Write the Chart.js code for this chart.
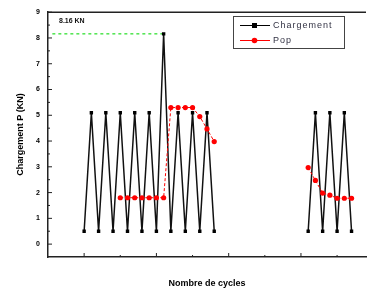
<!DOCTYPE html>
<html>
<head>
<meta charset="utf-8">
<script src="https://cdn.jsdelivr.net/npm/chart.js@4"></script>
<style>html,body{margin:0;padding:0;background:#fff}</style>
</head>
<body>
<canvas id="c" width="370" height="293"></canvas>
<script>
// Chargement (black squares) - two groups of cycles, gap between them
const cycles = [0, 0.5, 1, 1.5, 2, 2.5, 3, 3.5, 4, 4.5, 5, 5.5, 6, 6.5, 7, 7.5, 8, 8.5, 9, null,
  15.5, 16, 16.5, 17, 17.5, 18, 18.5];
const chargement = [0.5, 5.1, 0.5, 5.1, 0.5, 5.1, 0.5, 5.1, 0.5, 5.1, 0.5, 8.16, 0.5, 5.1, 0.5, 5.1, 0.5, 5.1, 0.5, null,
  0.5, 5.1, 0.5, 5.1, 0.5, 5.1, 0.5];

// Pop (red dots)
const popCycles = [2.5, 3, 3.5, 4, 4.5, 5, 5.5, 6, 6.5, 7, 7.5, 8, 8.5, 9, null,
  15.5, 16, 16.5, 17, 17.5, 18, 18.5];
const pop = [1.8, 1.8, 1.8, 1.8, 1.8, 1.8, 1.8, 5.3, 5.3, 5.3, 5.3, 4.95, 4.47, 3.98, null,
  2.97, 2.47, 1.98, 1.9, 1.78, 1.78, 1.78];

// peak marker line
const peakValue = 8.16;
const peakLineX = [-2.2, 5.5];

const yTicks = [0, 1, 2, 3, 4, 5, 6, 7, 8, 9];
const yMinor = [0.5, 1.5, 2.5, 3.5, 4.5, 5.5, 6.5, 7.5, 8.5];
const xMajor = [0, 5, 10, 15];
const xMinor = [2.5, 7.5, 12.5, 17.5];

const toPoints = (xs, ys) => xs.map((x, i) => ({ x: x, y: ys[i] }));

const frame = {
  id: "frame",
  afterDraw(chart) {
    const { ctx, chartArea: a, scales: { x, y } } = chart;
    ctx.save();
    ctx.strokeStyle = "#222";
    ctx.lineWidth = 1.5;
    ctx.beginPath();
    ctx.moveTo(a.left, a.top);
    ctx.lineTo(a.right, a.top);
    ctx.stroke();

    // inward ticks
    ctx.lineWidth = 1;
    ctx.beginPath();
    yTicks.forEach(v => { const p = y.getPixelForValue(v); ctx.moveTo(a.left, p); ctx.lineTo(a.left + 4, p); });
    yMinor.forEach(v => { const p = y.getPixelForValue(v); ctx.moveTo(a.left, p); ctx.lineTo(a.left + 2, p); });
    xMajor.forEach(v => { const p = x.getPixelForValue(v); ctx.moveTo(p, a.bottom); ctx.lineTo(p, a.bottom - 4); });
    xMinor.forEach(v => { const p = x.getPixelForValue(v); ctx.moveTo(p, a.bottom); ctx.lineTo(p, a.bottom - 2); });
    ctx.stroke();

    // peak label
    ctx.fillStyle = "#111";
    ctx.font = "bold 7px 'Liberation Sans', Arial";
    ctx.textBaseline = "middle";
    ctx.fillText(peakValue.toFixed(2) + " KN", 59, 21);

    // legend box
    const lx = 233, ly = 16, lw = 111, lh = 32;
    ctx.fillStyle = "#fff";
    ctx.fillRect(lx, ly, lw, lh);
    ctx.strokeStyle = "#444";
    ctx.lineWidth = 1;
    ctx.strokeRect(lx + 0.5, ly + 0.5, lw, lh);
    const rows = [
      { label: "Chargement", color: "#000", y: 25.5, square: true },
      { label: "Pop", color: "#f00", y: 40.5, square: false }
    ];
    ctx.font = "9px 'Liberation Sans', Arial";
    ctx.letterSpacing = "1px";
    rows.forEach(r => {
      ctx.strokeStyle = r.color;
      ctx.beginPath();
      ctx.moveTo(240, r.y);
      ctx.lineTo(270, r.y);
      ctx.stroke();
      ctx.fillStyle = r.color;
      if (r.square) {
        ctx.fillRect(252, r.y - 2.5, 5, 5);
      } else {
        ctx.beginPath();
        ctx.arc(254.5, r.y, 2.8, 0, Math.PI * 2);
        ctx.fill();
      }
      ctx.fillStyle = "#334";
      ctx.fillText(r.label, 273, r.y);
    });
    ctx.restore();
  }
};

new Chart(document.getElementById("c"), {
  type: "line",
  data: {
    datasets: [
      {
        label: "Pop",
        data: toPoints(popCycles, pop),
        borderColor: "#ff0000",
        backgroundColor: "#ff0000",
        borderWidth: 1,
        borderDash: [3, 2],
        pointRadius: 2.6,
        pointBorderWidth: 0,
        spanGaps: false
      },
      {
        label: "Chargement",
        data: toPoints(cycles, chargement),
        borderColor: "#111",
        backgroundColor: "#000",
        borderWidth: 1.5,
        pointStyle: "rect",
        pointRadius: 2.4,
        pointBorderWidth: 0,
        spanGaps: false
      },
      {
        label: "peak",
        data: toPoints(peakLineX, [peakValue, peakValue]),
        borderColor: "#22dd22",
        borderWidth: 1.2,
        borderDash: [3, 3],
        pointRadius: 0
      }
    ]
  },
  options: {
    responsive: false,
    animation: false,
    devicePixelRatio: 1,
    layout: { padding: { top: 10, right: 0, bottom: 0, left: 0 } },
    plugins: { legend: { display: false }, tooltip: { enabled: false } },
    scales: {
      x: {
        type: "linear",
        min: -2.5,
        max: 19.5,
        ticks: { display: false },
        grid: { display: true, drawOnChartArea: false, drawTicks: false },
        border: { display: true, color: "#222", width: 1.5 },
        title: {
          display: true,
          text: "Nombre de cycles",
          color: "#000",
          font: { family: "'Liberation Sans', Arial", size: 9, weight: "bold" },
          padding: { top: 0, bottom: 4 }
        },
        afterFit: s => { s.height = 36; }
      },
      y: {
        min: -0.5,
        max: 9,
        afterBuildTicks: s => { s.ticks = yTicks.map(v => ({ value: v })); },
        ticks: {
          color: "#000",
          padding: 8,
          font: { family: "'Liberation Sans', Arial", size: 7, weight: "bold" }
        },
        grid: { display: true, drawOnChartArea: false, drawTicks: false },
        border: { display: true, color: "#222", width: 1.5 },
        title: {
          display: true,
          text: "Chargement P (KN)",
          color: "#000",
          font: { family: "'Liberation Sans', Arial", size: 9, weight: "bold" },
          padding: { top: 15, bottom: 0 }
        },
        afterFit: s => { s.width = 48; }
      }
    }
  },
  plugins: [frame]
});
</script>
</body>
</html>
